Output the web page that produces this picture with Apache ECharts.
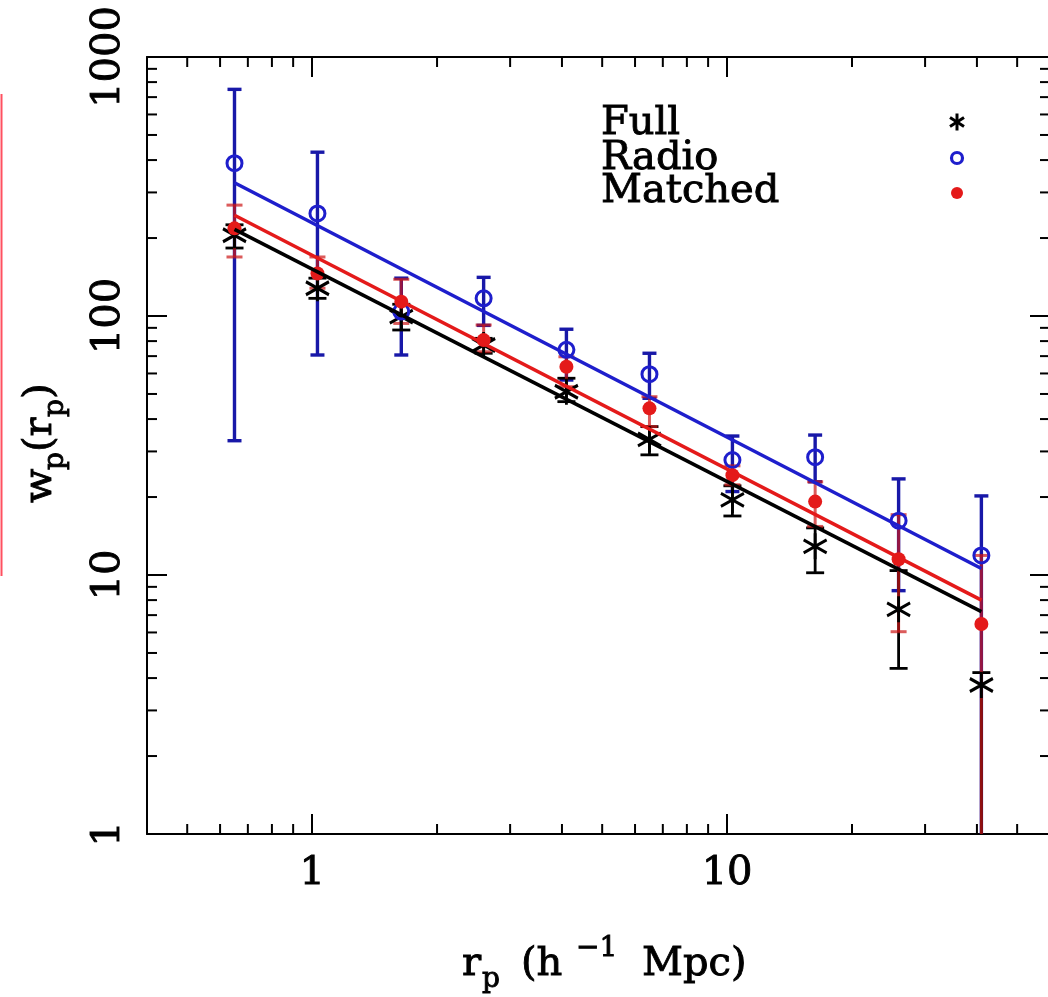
<!DOCTYPE html>
<html lang="en">
<head>
<meta charset="UTF-8">
<title>wp(rp)</title>
<style>
  html,body{margin:0;padding:0;background:#fff;}
  #main{width:1048px;height:997px;}
</style>
</head>
<body>
<div id="main"></div>
<script src="https://cdn.jsdelivr.net/npm/echarts@6/dist/echarts.min.js"></script>
<script>
// projected separation r_p (h^-1 Mpc), same bins for the three samples
const rp = [0.65, 1.03, 1.64, 2.59, 4.10, 6.50, 10.3, 16.3, 25.9, 41.0];

// Full sample
const fullW  = [205, 128, 99.4, 77.3, 51.0, 33.4, 19.5, 12.9, 7.37, 3.76];
const fullHi = [225, 140, 111, 82.0, 57.5, 37.4, 22.1, 15.2, 10.4, 4.2];
const fullLo = [183, 117, 88.3, 71.8, 46.7, 29.1, 16.9, 10.2, 4.36, 0.5];

// Radio sample
const radioW  = [389, 249, 104, 117, 74.0, 59.6, 27.8, 28.5, 16.2, 11.9];
const radioHi = [750, 429, 140, 141, 88.9, 71.8, 34.4, 34.7, 23.5, 20.2];
const radioLo = [33.0, 70.7, 70.7, 92.0, 56.6, 48.1, 21.0, 22.9, 8.7, 0.5];

// Matched sample
const matchW  = [218, 146, 113.6, 80.7, 63.7, 44.0, 24.3, 19.2, 11.5, 6.47];
const matchHi = [268, 169, 138.6, 92.3, 69.6, 48.8, 26.4, 22.9, 17.1, 11.9];
const matchLo = [169, 128, 93.6, 72.8, 53.3, 37.4, 22.3, 15.4, 6.04, 0.5];

// power-law fits (end points)
const fitX     = [0.65, 41.0];
const fullFit  = [216, 7.22];
const radioFit = [327, 10.6];
const matchFit = [245, 8.0];

// minor tick values
const xMinor = [0.5, 0.6, 0.7, 0.8, 0.9, 2, 3, 4, 5, 6, 7, 8, 9, 20, 30, 40, 50];
const yMinor = [2, 3, 4, 5, 6, 7, 8, 9, 20, 30, 40, 50, 60, 70, 80, 90,
                200, 300, 400, 500, 600, 700, 800, 900];

const FONT = 'DejaVu Serif';
const BLACK = '#000000';
const BLUE = '#1e1ecc';
const BLUE_BAR = '#1818a8';
const RED = '#e41a1a';

const chart = echarts.init(document.getElementById('main'));

function pairs(xs, ys) {
  return xs.map((x, i) => [x, ys[i]]);
}

function errorBars(lo, hi, color, capHalf, width, opacity) {
  return {
    type: 'custom',
    clip: true,
    silent: true,
    data: rp.map((x, i) => [x, lo[i], hi[i]]),
    encode: { x: 0, y: [1, 2] },
    renderItem: (params, api) => {
      const x = api.value(0);
      const a = api.coord([x, api.value(1)]);
      const b = api.coord([x, api.value(2)]);
      const st = { stroke: color, lineWidth: width, opacity: opacity };
      return {
        type: 'group',
        children: [
          { type: 'line', shape: { x1: a[0], y1: a[1], x2: b[0], y2: b[1] }, style: st },
          { type: 'line', shape: { x1: a[0] - capHalf, y1: a[1], x2: a[0] + capHalf, y2: a[1] }, style: st },
          { type: 'line', shape: { x1: b[0] - capHalf, y1: b[1], x2: b[0] + capHalf, y2: b[1] }, style: st }
        ]
      };
    }
  };
}

// minor ticks on a log axis, drawn on both sides of the frame
function minorTicks(values, dim) {
  return {
    type: 'custom',
    silent: true,
    data: values.map(v => dim === 'x' ? [v, 1] : [1, v]),
    encode: { x: 0, y: 1 },
    renderItem: (params, api) => {
      const cs = params.coordSys;
      const p = api.coord([api.value(0), api.value(1)]);
      const st = { stroke: BLACK, lineWidth: 2 };
      const len = 10;
      let lines;
      if (dim === 'x') {
        const b = cs.y + cs.height;
        lines = [[p[0], b, p[0], b - len], [p[0], cs.y, p[0], cs.y + len]];
      } else {
        const r = cs.x + cs.width;
        lines = [[cs.x, p[1], cs.x + len, p[1]], [r, p[1], r - len, p[1]]];
      }
      return {
        type: 'group',
        children: lines.map(l => ({
          type: 'line', shape: { x1: l[0], y1: l[1], x2: l[2], y2: l[3] }, style: st
        }))
      };
    }
  };
}

function decadeLabel(v) {
  const l = Math.log10(v);
  return Math.abs(l - Math.round(l)) < 1e-6 ? String(Math.round(v)) : '';
}

// plain text piece for the graphic layer, slightly heavier than the regular face
function txt(x, y, s, size) {
  return { type: 'text', x: x, y: y, style: {
    text: s, font: size + 'px "DejaVu Serif"', fill: BLACK,
    stroke: BLACK, lineWidth: 0.9, verticalAlign: 'middle' } };
}

const axisLineStyle = { lineStyle: { color: BLACK, width: 2 } };
const majorTick = { inside: true, length: 20, lineStyle: { color: BLACK, width: 2 } };
const labelFont = { fontFamily: FONT, fontSize: 40, color: BLACK, textBorderColor: BLACK, textBorderWidth: 0.9 };

const xBase = { type: 'log', logBase: 10, min: 0.4, max: 60, gridIndex: 0,
  axisLine: axisLineStyle, axisTick: majorTick, splitLine: { show: false }, minorTick: { show: false } };
const yBase = { type: 'log', logBase: 10, min: 1, max: 1000, gridIndex: 0,
  axisLine: axisLineStyle, axisTick: majorTick, splitLine: { show: false }, minorTick: { show: false } };

const asterisk = 'path://M0,-10L0,10M-8.66,-5L8.66,5M-8.66,5L8.66,-5';

const option = {
  animation: false,
  backgroundColor: '#ffffff',
  grid: { left: 147, top: 57, width: 903, height: 777, containLabel: false, outerBoundsMode: 'none' },
  xAxis: [
    Object.assign({}, xBase, {
      position: 'bottom',
      axisLabel: Object.assign({ margin: 20, showMinLabel: false, showMaxLabel: false,
        formatter: decadeLabel }, labelFont)
    }),
    Object.assign({}, xBase, { position: 'top', axisLabel: { show: false } })
  ],
  yAxis: [
    Object.assign({}, yBase, {
      position: 'left',
      axisLabel: Object.assign({ rotate: 90, margin: 18, formatter: decadeLabel }, labelFont)
    }),
    Object.assign({}, yBase, { position: 'right', axisLabel: { show: false } })
  ],
  series: [
    minorTicks(xMinor, 'x'),
    minorTicks(yMinor, 'y'),
    { type: 'line', data: pairs(fitX, fullFit), showSymbol: false, silent: true,
      lineStyle: { color: BLACK, width: 3.5 } },
    { type: 'line', data: pairs(fitX, matchFit), showSymbol: false, silent: true,
      lineStyle: { color: RED, width: 3.5 } },
    { type: 'line', data: pairs(fitX, radioFit), showSymbol: false, silent: true,
      lineStyle: { color: BLUE, width: 3.5 } },
    errorBars(radioLo, radioHi, BLUE_BAR, 7, 3.4, 1),
    errorBars(fullLo, fullHi, BLACK, 9, 2.8, 1),
    errorBars(matchLo, matchHi, '#cc1616', 8, 3, 0.7),
    { type: 'scatter', data: pairs(rp, fullW), symbol: asterisk, symbolSize: [23, 26],
      itemStyle: { color: 'rgba(0,0,0,0)', borderColor: BLACK, borderWidth: 3, opacity: 1 } },
    { type: 'scatter', data: pairs(rp, radioW), symbol: 'circle', symbolSize: 15,
      itemStyle: { color: 'rgba(255,255,255,0)', borderColor: BLUE, borderWidth: 3, opacity: 1 } },
    { type: 'scatter', data: pairs(rp, matchW), symbol: 'circle', symbolSize: 14,
      itemStyle: { color: RED, opacity: 1 } }
  ],
  graphic: [
    // stray red edge line at the far left of the picture
    { type: 'line', shape: { x1: 1.5, y1: 94, x2: 1.5, y2: 576 }, style: { stroke: '#ff5060', lineWidth: 2 } },

    // legend
    txt(601, 124, 'Full', 40),
    txt(601, 159, 'Radio', 40),
    txt(601, 192, 'Matched', 40),
    { type: 'group', x: 957, y: 122, children: [
      { type: 'line', shape: { x1: 0, y1: -8.5, x2: 0, y2: 8.5 }, style: { stroke: BLACK, lineWidth: 3 } },
      { type: 'line', shape: { x1: -7, y1: -4.5, x2: 7, y2: 4.5 }, style: { stroke: BLACK, lineWidth: 3 } },
      { type: 'line', shape: { x1: -7, y1: 4.5, x2: 7, y2: -4.5 }, style: { stroke: BLACK, lineWidth: 3 } }
    ] },
    { type: 'circle', shape: { cx: 957, cy: 158, r: 5.5 }, style: { fill: 'none', stroke: BLUE, lineWidth: 3.2 } },
    { type: 'circle', shape: { cx: 957, cy: 193, r: 6 }, style: { fill: RED } },

    // x axis title: r_p (h^-1 Mpc)
    txt(462, 965, 'r', 40),
    txt(482, 980, 'p', 28),
    txt(521, 965, '(h', 40),
    txt(576, 949, '\u22121', 28),
    txt(642, 965, 'Mpc)', 40),

    // y axis title: w_p(r_p), reading upwards
    { type: 'group', x: 53, y: 503, rotation: Math.PI / 2, children: [
      txt(0, -12, 'w', 40),
      txt(33, 3, 'p', 28),
      txt(51, -12, '(r', 40),
      txt(86, 3, 'p', 28),
      txt(104, -12, ')', 40)
    ] }
  ]
};

chart.setOption(option);
</script>
</body>
</html>
